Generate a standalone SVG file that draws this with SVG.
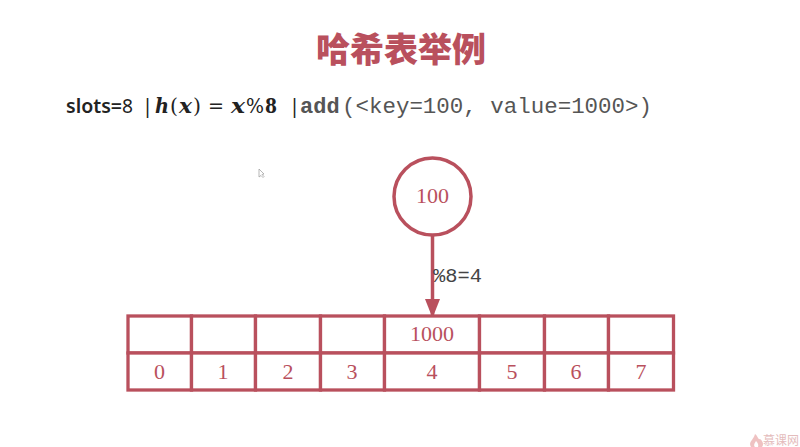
<svg xmlns="http://www.w3.org/2000/svg" width="800" height="447" viewBox="0 0 800 447">
<style>
.c{fill:#fff;stroke:#b9505d;stroke-width:3.300}
.n{font-family:"Liberation Serif",serif;font-size:22px;fill:#b9505d;text-anchor:middle}
.s{font-family:"Noto Sans","Liberation Sans",sans-serif;font-size:20px;fill:#222}
.m{font-family:"Liberation Mono",monospace;font-size:22px;fill:#555}
.e{font-family:"DejaVu Serif",serif;font-size:21px;fill:#222}
.i{font-weight:bold;font-style:italic}
</style>
<defs><marker id="a" markerUnits="userSpaceOnUse" markerWidth="20" markerHeight="16" refX="19" refY="8" orient="auto"><path d="M0 0.500L19 8L0 15.500Z" fill="#b9505d"/></marker></defs>
<rect width="800" height="447" fill="#fff"/>
<g id="title"><text x="401" y="62" font-family="'Noto Sans CJK SC',sans-serif" font-size="34" font-weight="900" fill="#b9505d" text-anchor="middle">哈希表举例</text></g>
<g id="formula">
<text class="s" x="66" y="113" font-weight="600" textLength="56" lengthAdjust="spacingAndGlyphs">slots=</text>
<text class="s" x="122" y="113" textLength="11" lengthAdjust="spacingAndGlyphs">8</text>
<text class="s" x="142" y="113">|</text>
<text class="e i" x="155" y="113" textLength="14" lengthAdjust="spacingAndGlyphs">h</text><text class="e" x="170" y="113" textLength="8" lengthAdjust="spacingAndGlyphs">(</text><text class="e i" x="179" y="113" textLength="13" lengthAdjust="spacingAndGlyphs">x</text><text class="e" x="193" y="113" textLength="8" lengthAdjust="spacingAndGlyphs">)</text><text class="e" x="208" y="113" textLength="16" lengthAdjust="spacingAndGlyphs">=</text><text class="e i" x="231" y="113" textLength="14" lengthAdjust="spacingAndGlyphs">x</text><text class="e" x="246" y="113" font-size="19" textLength="18" lengthAdjust="spacingAndGlyphs">%</text><text class="e" x="265" y="113" font-weight="bold" textLength="12" lengthAdjust="spacingAndGlyphs">8</text>
<text class="s" x="289" y="113">|</text>
<text class="m" x="300" y="113" font-weight="bold" fill="#111">add</text>
<text class="m" x="342" y="113" textLength="310" lengthAdjust="spacingAndGlyphs">(&lt;key=100, value=1000&gt;)</text>
</g>
<g id="cursor"><path d="M259 169L259 177L261 175.500L263 177.500L264 176.500L262 174.500L264 174Z" fill="#fff" stroke="#999" stroke-width=".7"/></g>
<g id="connectors"><line x1="432.500" y1="235" x2="432.500" y2="318" stroke="#b9505d" stroke-width="3.500" marker-end="url(#a)"/></g>
<g id="node-100"><circle cx="432.500" cy="196.500" r="38.500" fill="#fff" stroke="#b9505d" stroke-width="3.500"/><text class="n" x="432.500" y="203">100</text></g>
<g id="edge-label"><text x="433" y="282" font-family="'Liberation Mono',monospace" font-size="20" fill="#444" textLength="49" lengthAdjust="spacingAndGlyphs">%8=4</text></g>
<g id="table">
<rect class="c" x="128" y="316" width="63.500" height="37"/><rect class="c" x="191.500" y="316" width="64" height="37"/><rect class="c" x="255.500" y="316" width="65" height="37"/><rect class="c" x="320.500" y="316" width="64" height="37"/><rect class="c" x="384.500" y="316" width="95" height="37"/><rect class="c" x="479.500" y="316" width="65" height="37"/><rect class="c" x="544.500" y="316" width="64" height="37"/><rect class="c" x="608.500" y="316" width="65" height="37"/>
<rect class="c" x="128" y="353" width="63.500" height="37"/><rect class="c" x="191.500" y="353" width="64" height="37"/><rect class="c" x="255.500" y="353" width="65" height="37"/><rect class="c" x="320.500" y="353" width="64" height="37"/><rect class="c" x="384.500" y="353" width="95" height="37"/><rect class="c" x="479.500" y="353" width="65" height="37"/><rect class="c" x="544.500" y="353" width="64" height="37"/><rect class="c" x="608.500" y="353" width="65" height="37"/>
<text class="n" x="432" y="341">1000</text>
<text class="n" x="159.500" y="379">0</text><text class="n" x="223" y="379">1</text><text class="n" x="288" y="379">2</text><text class="n" x="352" y="379">3</text><text class="n" x="432" y="379">4</text><text class="n" x="512" y="379">5</text><text class="n" x="576" y="379">6</text><text class="n" x="641" y="379">7</text>
</g>
<g id="watermark" opacity=".7"><path d="M751 447C748 442 753 441 755 434C758 436 758 440 760 439C763 441 764 445 762 447L758 447C759 444 757 442 756 441C755 443 753 445 755 447Z" fill="#e9a9a9"/><text x="763" y="444.500" font-family="'Noto Sans CJK SC',sans-serif" font-size="12" fill="#d9a0a0">慕课网</text></g>
</svg>
